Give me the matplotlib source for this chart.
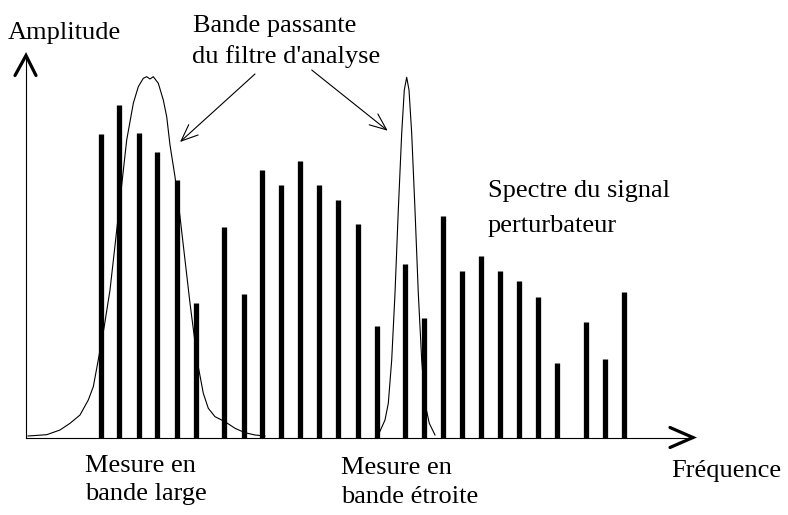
import matplotlib
matplotlib.use("Agg")
import matplotlib.pyplot as plt

# spectrum lines of the disturbing signal (frequency, amplitude)
bar_freq = [75, 93, 113, 131, 151, 170, 198, 218, 236, 255, 274, 293, 312, 332,
            351, 379, 398, 417, 436, 455, 474, 493, 512, 531, 560, 579, 598]
bar_amp = [304, 333, 305, 286, 258, 135, 211, 144, 268, 253, 277, 253, 238, 214,
           112, 174, 120, 222, 167, 182, 167, 157, 141, 75, 116, 79, 146]

# wide analysis filter response
wide_freq = [2, 20.7, 34, 44, 54, 62.3, 67.3, 71.7, 78, 84, 88.5, 93.3, 100.7,
             107.3, 112.3, 117.3, 120.7, 124, 127.3, 132.3, 137.3, 140.7, 144,
             149, 154, 159, 164, 168.3, 172.3, 177.3, 182.3, 189, 199, 209, 219,
             229, 239]
wide_amp = [1.5, 2.8, 7.5, 14.2, 22.5, 37.5, 50.8, 74.5, 109.5, 147.5, 187.5,
            230.8, 297.5, 334.2, 350.8, 359.2, 360.8, 358.5, 360.8, 354.2, 337.5,
            320.8, 292.5, 260.8, 220.8, 177.5, 134.2, 100.8, 70.8, 44.2, 29.2,
            20.8, 15.8, 9.2, 4.8, 2.5, 1.5]

# narrow analysis filter response
narrow_freq = [352.3, 359, 362.3, 365.7, 369, 372.3, 375.7, 378.3, 380.7, 383,
               385.7, 389, 392.3, 395.7, 399, 403.3, 409]
narrow_amp = [2.5, 17.5, 34.2, 77.5, 144.2, 227.5, 304.2, 347.5, 360.2, 347.5,
              304.2, 227.5, 144.2, 77.5, 34.2, 14.2, 2.5]

FONT = "Liberation Serif"
FS = 19


def draw_axes(ax):
    # thin axis lines with bold open arrow heads
    ax.plot([0, 0], [0, 382], color="black", lw=0.8)
    ax.plot([0, 667], [0, 0], color="black", lw=0.8)
    ax.plot([-11, 0, 10], [362, 382, 362], color="black", lw=2.3,
            solid_capstyle="round", solid_joinstyle="miter")
    ax.plot([644, 667, 644], [10, 0, -10], color="black", lw=2.3,
            solid_capstyle="round", solid_joinstyle="miter")


def draw_spectrum(ax):
    ax.vlines(bar_freq, 0, bar_amp, color="black", lw=3.8)
    ax.plot(wide_freq, wide_amp, color="black", lw=0.8)
    ax.plot(narrow_freq, narrow_amp, color="black", lw=0.8)


def draw_labels(ax):
    kw = dict(family=FONT, fontsize=FS, va="baseline", ha="left")
    ax.text(-18, 398.5, "Amplitude", **kw)
    ax.text(167, 405.8, "Bande passante", **kw)
    ax.text(166, 374.5, "du filtre d'analyse", **kw)
    ax.text(462, 240.5, "Spectre du signal", **kw)
    ax.text(462, 205.5, "perturbateur", **kw)
    ax.text(59, -34.2, "Mesure en", **kw)
    ax.text(59, -62.5, "bande large", **kw)
    ax.text(315, -36.5, "Mesure en", **kw)
    ax.text(315, -65.5, "bande étroite", **kw)
    ax.text(645, -39.5, "Fréquence", **kw)

    arrow = dict(arrowstyle="->,head_length=0.6,head_width=0.25",
                 color="black", lw=0.8, shrinkA=0, shrinkB=0, mutation_scale=20)
    ax.annotate("", xy=(154, 295.5), xytext=(229, 363.5), arrowprops=arrow)
    ax.annotate("", xy=(361.7, 306.8), xytext=(285.7, 367.5), arrowprops=arrow)


fig = plt.figure(figsize=(7.88, 5.15), dpi=100)
ax = fig.add_axes([0, 0, 1, 1])
ax.set_xlim(-26, 762)
ax.set_ylim(-77.5, 437.5)
ax.axis("off")

draw_axes(ax)
draw_spectrum(ax)
draw_labels(ax)

fig.savefig("out.png", dpi=100)
